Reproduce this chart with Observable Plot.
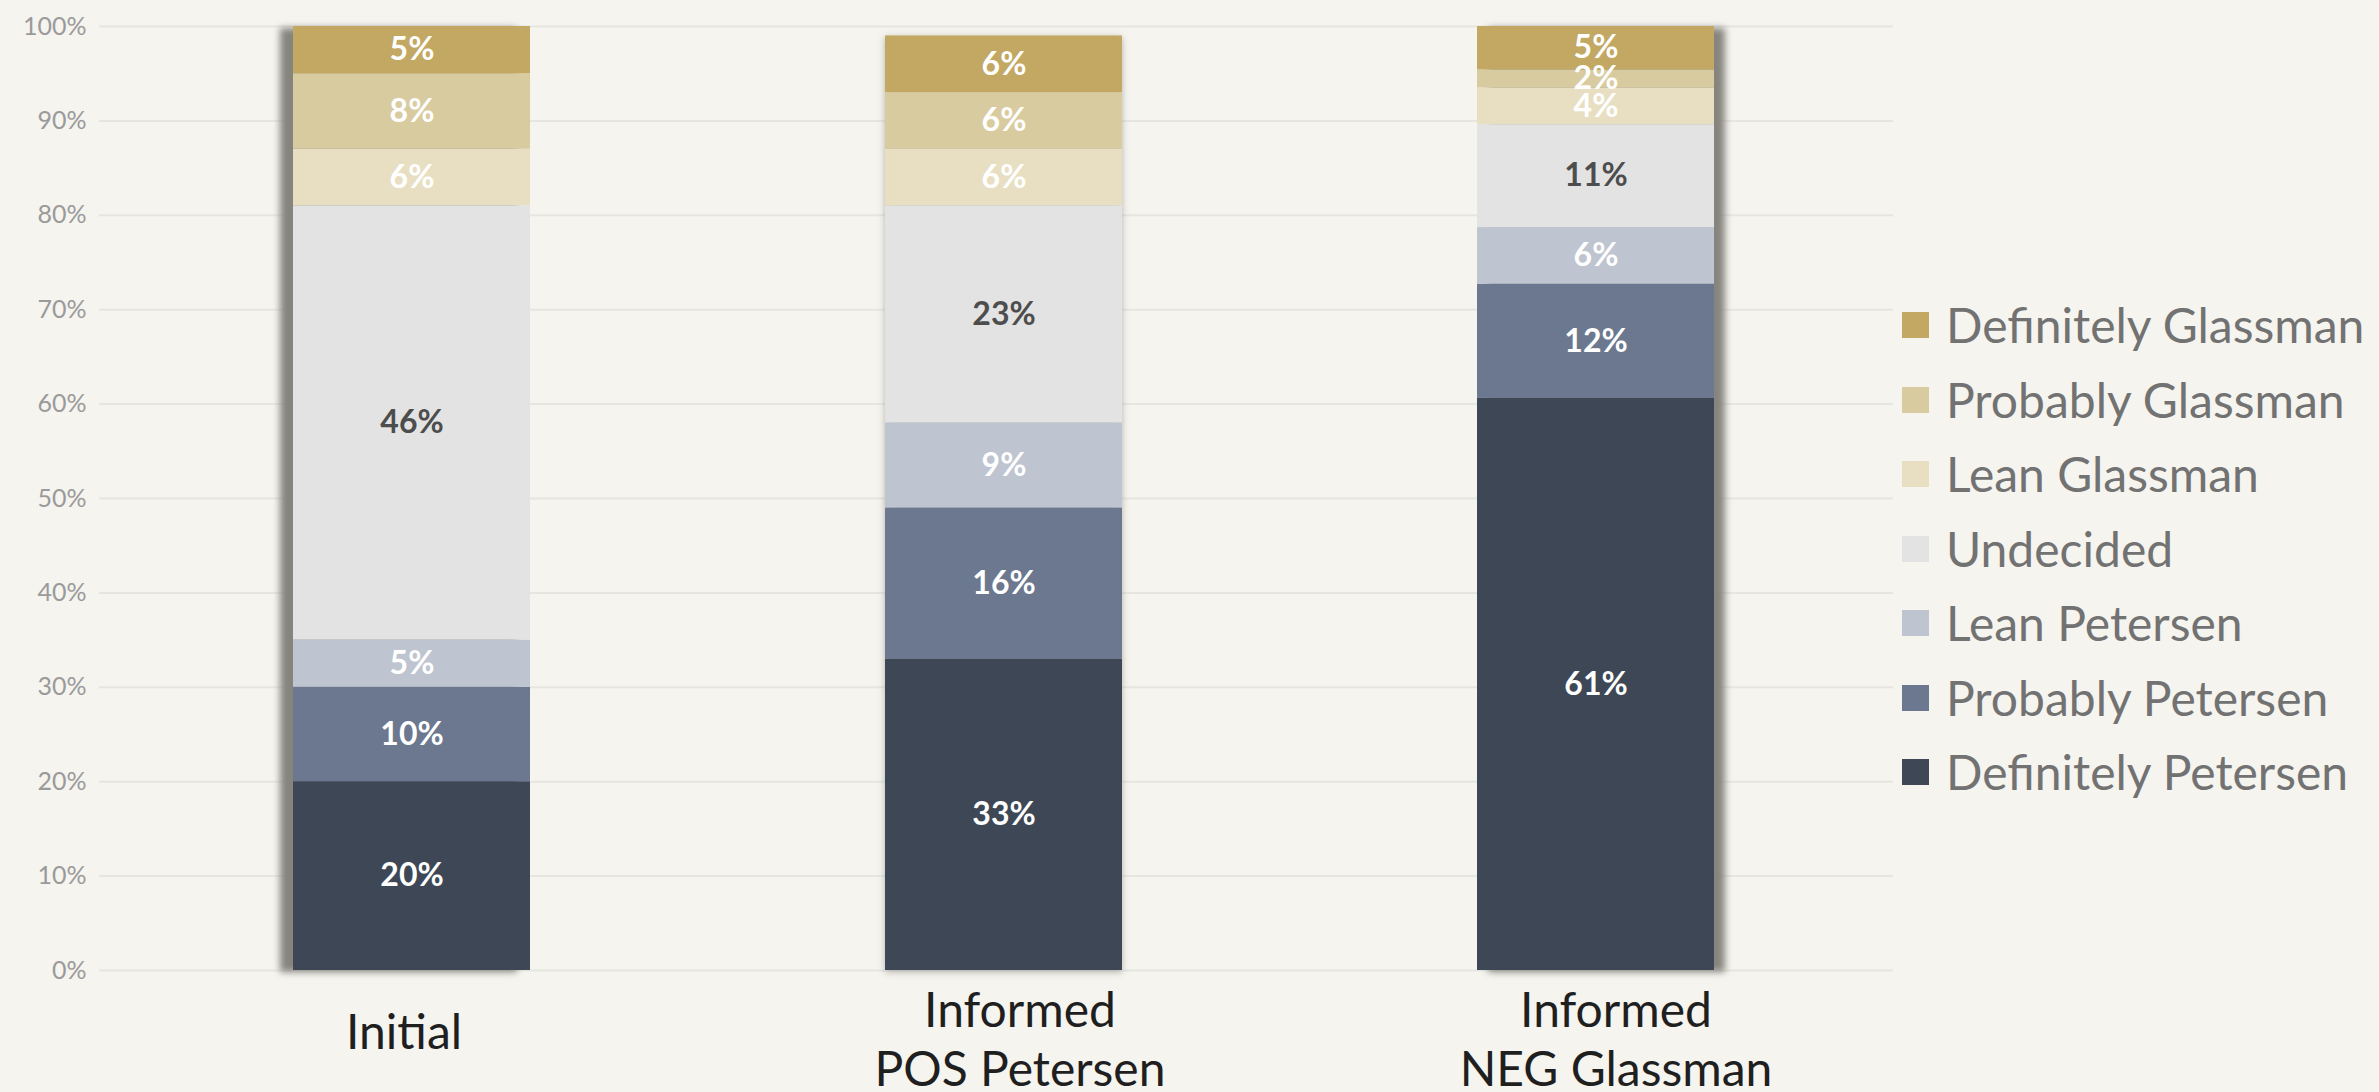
<!DOCTYPE html>
<html><head><meta charset="utf-8">
<script src="https://cdn.jsdelivr.net/npm/d3@7"></script>
<script src="https://cdn.jsdelivr.net/npm/@observablehq/plot@0.6"></script>
<style>
html,body{margin:0;padding:0;background:#f5f4ef;}
#wrap{position:relative;width:2379px;height:1092px;overflow:hidden;background:#f5f4ef;}
#legend{position:absolute;left:1902px;top:288px;font-family:Lato,"Open Sans",sans-serif;}
.row{display:flex;align-items:center;height:74.5px;}
.sw{width:27px;height:26px;margin-right:17px;flex:none;}
.lab{font-size:48px;color:#727272;white-space:nowrap;line-height:1;}
</style></head><body><div id="wrap"></div>
<script>
// ---- data ----
const groups = ["Initial", "Informed POS Petersen", "Informed NEG Glassman"];
const groupLabelLines = [["Initial"], ["Informed", "POS Petersen"], ["Informed", "NEG Glassman"]];
const series = ["Definitely Petersen", "Probably Petersen", "Lean Petersen", "Undecided", "Lean Glassman", "Probably Glassman", "Definitely Glassman"];
const colors = ["#3e4755", "#6c788f", "#bec4d0", "#e3e3e3", "#e8dfc3", "#d9cba0", "#c2a863"];
const initialValues = [20, 10, 5, 46, 6, 8, 5];
const posPetersenValues = [33, 16, 9, 23, 6, 6, 6];
const negGlassmanValues = [60.6, 12.1, 6.0, 10.9, 3.9, 1.9, 4.6];
const yTicks = [0, 10, 20, 30, 40, 50, 60, 70, 80, 90, 100];

const NL = String.fromCharCode(10);
const valuesByGroup = [initialValues, posPetersenValues, negGlassmanValues];
const rows = groups.flatMap((g, gi) => series.map((s, si) => ({group: g, series: s, value: valuesByGroup[gi][si]})));
const fmt = d => Math.round(d.value) + "%";
const labelOf = g => groupLabelLines[groups.indexOf(g)].join(NL);

// style-only offsets
const SHADOW = "#86847e";
const shadowDx = [-13, 0, 11];
const shadowOpacity = [1, 0.6, 1];
const labelDx = [-8, 16, 20];

const marks = [
  Plot.gridY(yTicks, {stroke: "#e6e6e1", strokeOpacity: 1, strokeWidth: 2}),
  Plot.axisY(yTicks, {tickSize: 0, tickPadding: 13, tickFormat: d => d + "%", fontSize: 25, fill: "#9a9a9a", label: null}),
  ...groups.map((g, i) => Plot.barY(rows.filter(r => r.group === g), Plot.groupX({y: "sum"}, {x: "group", y: "value", fill: SHADOW, fillOpacity: shadowOpacity[i], dx: shadowDx[i], dy: 2}))),
  Plot.barY(rows, {x: "group", y: "value", fill: "series", order: series}),
  Plot.text(rows, Plot.stackY({x: "group", y: "value", z: "series", order: series, text: d => (d.series === "Undecided" ? null : fmt(d)), fill: "#ffffff", fontSize: 32, fontWeight: 700})),
  Plot.text(rows, Plot.stackY({x: "group", y: "value", z: "series", order: series, text: d => (d.series === "Undecided" ? fmt(d) : null), fill: "#4d4d4d", fontSize: 32, fontWeight: 700})),
  ...groups.map((g, i) => Plot.text([g], {
    x: d => d, text: labelOf, frameAnchor: "bottom", lineAnchor: "middle",
    dy: groupLabelLines[i].length > 1 ? 67 : 60, dx: labelDx[i],
    fontSize: 48, lineHeight: 59 / 48, fill: "#1f1f1f"
  }))
];

const chart = Plot.plot({
  width: 2379,
  height: 1092,
  marginLeft: 99,
  marginRight: 486,
  marginTop: 26,
  marginBottom: 122,
  style: {background: "transparent", fontFamily: "Lato, 'Open Sans', sans-serif"},
  x: {domain: groups, paddingInner: 0.6, paddingOuter: 0.3127, align: 0.52, axis: null},
  y: {domain: [0, 100], axis: null},
  color: {domain: series, range: colors},
  marks: marks
});

// blur filter for bar shadows
const svg = d3.select(chart);
const defs = svg.insert("defs", ":first-child");
defs.append("filter").attr("id", "barShadow")
  .attr("filterUnits", "userSpaceOnUse").attr("x", 0).attr("y", 0).attr("width", 2379).attr("height", 1092)
  .append("feGaussianBlur").attr("stdDeviation", 3.5);
svg.selectAll("g").filter(function () { return this.getAttribute("fill") === SHADOW; }).attr("filter", "url(#barShadow)");

const wrap = document.getElementById("wrap");
wrap.appendChild(chart);

// legend from the chart's color scale (top to bottom: reversed)
const cs = chart.scale("color");
const legend = document.createElement("div");
legend.id = "legend";
cs.domain.slice().reverse().forEach(name => {
  const row = document.createElement("div");
  row.className = "row";
  const sw = document.createElement("div");
  sw.className = "sw";
  sw.style.background = cs.apply(name);
  const lab = document.createElement("div");
  lab.className = "lab";
  lab.textContent = name;
  row.appendChild(sw);
  row.appendChild(lab);
  legend.appendChild(row);
});
wrap.appendChild(legend);
</script></body></html>
